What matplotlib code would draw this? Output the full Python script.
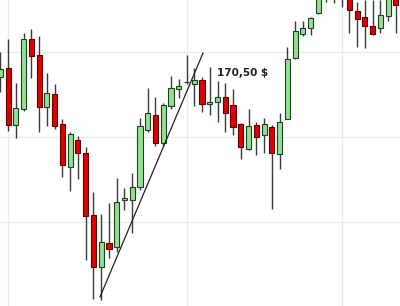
import numpy as np
import matplotlib
matplotlib.use("Agg")
import matplotlib.pyplot as plt

# daily candles, prices
opens = [172.06, 173.12, 166.41, 168.29, 176.53, 174.65, 168.53, 170.06, 166.53, 161.47,
         164.65, 163.12, 155.82, 149.71, 152.53, 152.06, 157.59, 157.59, 159.12, 165.82,
         167.59, 164.29, 168.65, 170.65, 171.47, 171.24, 171.71, 168.88, 169.12, 169.71,
         168.76, 166.53, 163.59, 166.41, 165.24, 166.18, 163.00, 167.12, 174.29, 177.12,
         177.82, 179.59, 182.06, 182.88, 182.53, 181.71, 179.82, 179.12, 178.06, 177.82,
         179.24, 181.47]
highs = [175.00, 176.53, 171.35, 177.24, 177.71, 176.88, 172.53, 171.24, 167.12, 165.59,
         165.12, 163.82, 158.53, 155.94, 157.24, 160.18, 159.00, 160.76, 167.24, 170.76,
         169.71, 169.00, 172.18, 171.82, 174.65, 173.12, 172.06, 173.24, 171.59, 171.35,
         170.65, 166.65, 168.29, 166.76, 167.24, 166.41, 167.82, 175.59, 178.65, 178.65,
         179.12, 182.29, 183.47, 183.47, 183.24, 182.29, 180.88, 181.12, 181.12, 181.12,
         181.71, 182.06]
lows = [170.29, 165.71, 164.88, 168.06, 171.94, 165.59, 166.29, 165.94, 160.29, 158.65,
        160.06, 150.53, 145.94, 145.82, 150.76, 151.47, 156.41, 153.71, 158.76, 165.59,
        163.94, 163.94, 168.29, 169.59, 171.24, 168.65, 167.94, 167.59, 166.76, 165.59,
        165.24, 162.41, 163.47, 162.88, 163.12, 156.53, 161.24, 167.12, 174.18, 176.88,
        177.00, 179.47, 180.88, 180.76, 180.29, 177.24, 175.59, 175.47, 177.00, 177.24,
        178.65, 177.24]
closes = [173.00, 166.41, 168.41, 176.53, 174.53, 168.53, 170.18, 166.29, 161.71, 165.35,
          163.12, 155.71, 149.71, 152.65, 151.82, 157.35, 157.82, 159.12, 166.29, 167.82,
          164.29, 168.76, 170.76, 171.00, 171.47, 171.71, 168.88, 169.12, 169.71, 167.82,
          166.18, 163.82, 166.29, 165.00, 166.53, 163.12, 166.76, 174.18, 177.47, 177.82,
          179.00, 181.71, 182.88, 181.82, 181.47, 179.94, 178.88, 178.06, 177.12, 179.35,
          181.47, 180.53]

trend_x = [12.84, 26.13]
trend_y = [146.18, 174.88]

price_label = "170,50 $"
label_pos = (27.9, 172.5)

grid_x = [1, 24, 44]
grid_y = [155, 165, 175]

o = np.array(opens)
h = np.array(highs)
l = np.array(lows)
c = np.array(closes)
x = np.arange(len(o))
up = c >= o

fig = plt.figure(figsize=(4.0, 3.06), dpi=100)
ax = fig.add_axes([0, 0, 1, 1])

for gx in grid_x:
    ax.axvline(gx, color="#ebebeb", lw=1, zorder=0)
for gy in grid_y:
    ax.axhline(gy, color="#ebebeb", lw=1, zorder=0)

ax.vlines(x, l, h, color="#3a3a3a", lw=1, zorder=1)

bottom = np.minimum(o, c)
height = np.abs(c - o)
ax.bar(x[up], height[up], bottom=bottom[up], width=0.65,
       color="#92e092", edgecolor="#1f3f1f", lw=0.8, zorder=2)
ax.bar(x[~up], height[~up], bottom=bottom[~up], width=0.65,
       color="#e00000", edgecolor="#5a0000", lw=0.8, zorder=2)

ax.plot(trend_x, trend_y, color="#222222", lw=0.9, zorder=3)

ax.text(label_pos[0], label_pos[1], price_label, fontsize=7.5, fontweight="bold",
        color="#222222", va="center", ha="left", zorder=4)

ax.set_xlim(-0.058, 51.54)
ax.set_ylim(145.118, 181.118)
ax.axis("off")

fig.savefig("out.png", dpi=100, facecolor="white")
